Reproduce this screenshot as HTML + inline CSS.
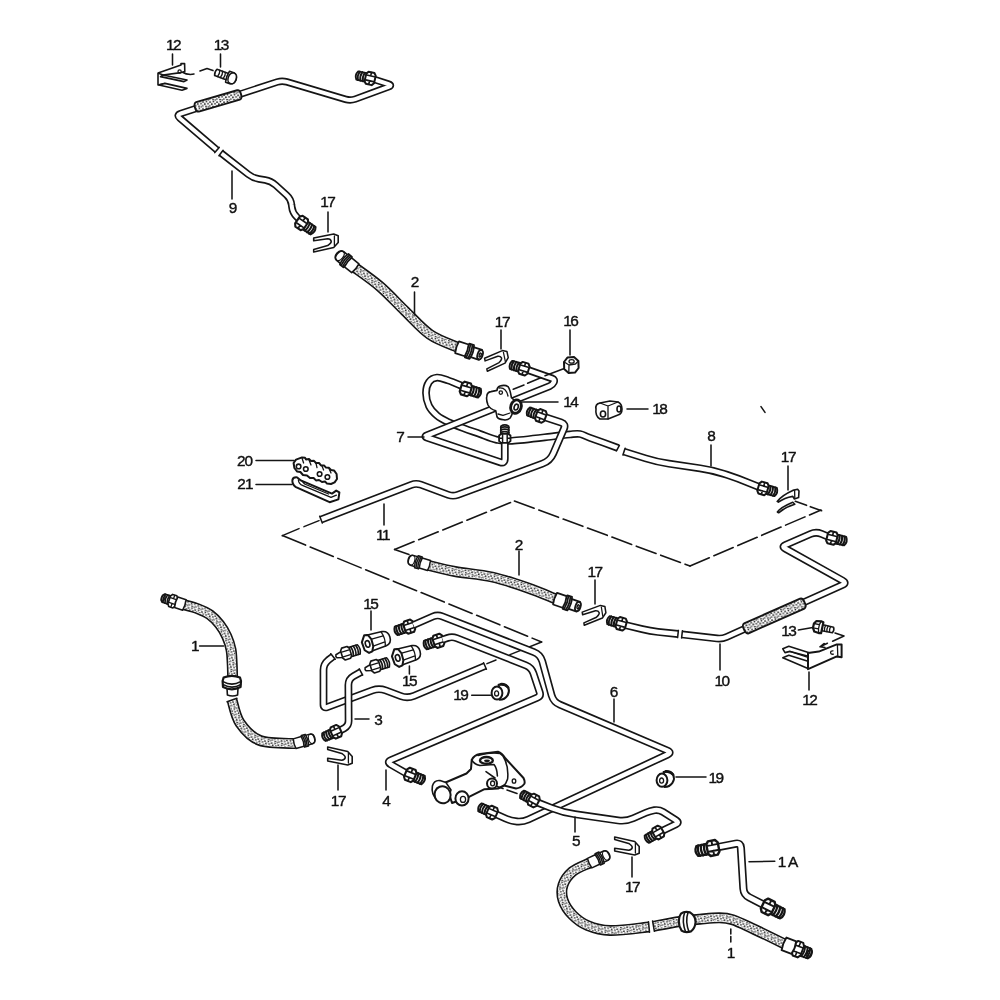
<!DOCTYPE html>
<html><head><meta charset="utf-8"><title>Brake lines</title>
<style>
html,body{margin:0;padding:0;background:#fff;}
body{width:1000px;height:1000px;overflow:hidden;}
svg{display:block;filter:grayscale(1) blur(0.35px);}
text{font-family:"Liberation Sans",sans-serif;fill:#111;stroke:#111;stroke-width:0.4;stroke-linejoin:round;text-anchor:middle;}
.to{fill:none;stroke:#151515;stroke-linejoin:round;}
.ti{fill:none;stroke:#fff;stroke-linejoin:round;}
.hd{fill:none;stroke:url(#dots);}
.l{fill:none;stroke:#151515;stroke-width:1.55;stroke-linecap:round;stroke-linejoin:round;}
.l2{fill:none;stroke:#151515;stroke-width:1.3;stroke-linecap:round;stroke-linejoin:round;}
.f{fill:#fff;stroke:#151515;stroke-width:1.6;stroke-linejoin:round;}
.k{fill:#151515;stroke:none;}
.d{fill:none;stroke:#151515;stroke-width:1.6;stroke-linecap:round;}
.d2{fill:none;stroke:#151515;stroke-width:1.5;stroke-dasharray:7 3;}
</style></head><body>
<svg width="1000" height="1000" viewBox="0 0 1000 1000">
<defs>
<pattern id="dots" width="7" height="7" patternUnits="userSpaceOnUse" patternTransform="rotate(17)">
<rect width="7" height="7" fill="#fff"/>
<circle cx="1" cy="1.2" r="0.9" fill="#222"/><circle cx="4.4" cy="0.6" r="0.85" fill="#222"/><circle cx="2.8" cy="3.2" r="0.95" fill="#222"/><circle cx="6" cy="2.8" r="0.85" fill="#222"/><circle cx="0.8" cy="5" r="0.85" fill="#222"/><circle cx="4" cy="5.6" r="0.9" fill="#222"/><circle cx="6.2" cy="6" r="0.8" fill="#222"/>
</pattern>
</defs>
<rect width="1000" height="1000" fill="#fff"/>
<path d="M319 520.6 L304 526.6 M299 528.6 L282.4 535.6" class="l"/><path d="M282.4 535.6 L541.6 642" class="d" stroke-dasharray="25 5"/><path d="M541.6 642 L510 654.6 M496 660 L487 663.6" class="l"/>
<path d="M409 554.4 L394.6 549.4" class="l"/><path d="M394.6 549.4 L514.4 501" class="d" stroke-dasharray="21 5"/><path d="M514.4 501 L690 566" class="d" stroke-dasharray="21 5"/><path d="M690 566 L821 510" class="d" stroke-dasharray="21 5"/><path d="M821.6 510.8 L792 500" class="d" stroke-dasharray="12 4"/>
<path d="M182 72 Q188 75.5 194 74 M200 71 L207 68.6 L213 70.6" class="l"/>
<path d="M835 633 L844 636 L832.6 641.2 M827.4 643.2 L820 646.8 M820 646.8 L824 643.6 M820 646.8 L825 647.4" class="l"/>
<path d="M373.6 79.2 L388.6 84.1 Q392.4 85.4 388.6 86.8 L355.2 99.1 Q350.5 100.8 345.7 99.4 L286.8 81.9 Q282.0 80.5 277.2 82.0 L180.8 113.5 Q176.0 115.0 179.8 118.2 L217.0 150.0" class="to" stroke-width="7.4"/>
<path d="M373.6 79.2 L388.6 84.1 Q392.4 85.4 388.6 86.8 L355.2 99.1 Q350.5 100.8 345.7 99.4 L286.8 81.9 Q282.0 80.5 277.2 82.0 L180.8 113.5 Q176.0 115.0 179.8 118.2 L217.0 150.0" class="ti" stroke-width="4.1"/>
<path d="M219.2 147.4 L214.8 152.6" class="l"/>
<path d="M221.0 153.0 L248.3 174.3 Q253.0 178.0 258.9 179.0 L265.1 180.0 Q271.0 181.0 275.5 185.0 L286.5 195.0 Q291.0 199.0 291.6 205.0 L291.8 206.6 Q292.4 212.6 296.7 216.8 L301.6 221.6" class="to" stroke-width="7.4"/>
<path d="M221.0 153.0 L248.3 174.3 Q253.0 178.0 258.9 179.0 L265.1 180.0 Q271.0 181.0 275.5 185.0 L286.5 195.0 Q291.0 199.0 291.6 205.0 L291.8 206.6 Q292.4 212.6 296.7 216.8 L301.6 221.6" class="ti" stroke-width="4.1"/>
<path d="M218.9 155.7 L223.1 150.3" class="l"/>
<g transform="translate(195.0 107.6) rotate(-16.2)"><rect x="0" y="-4.9" width="47.9" height="9.8" rx="2.6" ry="4" fill="url(#dots)" stroke="#151515" stroke-width="1.9"/></g>
<g transform="translate(374.4 79.4) rotate(193.0) scale(1.00)"><path d="M8 -4.4 L17.6 -4.2 Q20.4 0 17.6 4.2 L8 4.4 Z" class="f" style="stroke-width:1.9"/><path d="M10.8 -4.4 Q12.6 0 10.8 4.4" class="l" style="stroke-width:1.9"/><path d="M13.4 -4.4 Q15.2 0 13.4 4.4" class="l" style="stroke-width:1.9"/><path d="M16.0 -4.4 Q17.8 0 16.0 4.4" class="l" style="stroke-width:1.9"/><path d="M-0.5 -3.8 L1.4 -6.2 L7.4 -6.2 L9.2 -3.8 L9.2 3.8 L7.4 6.2 L1.4 6.2 L-0.5 3.8 Z" class="f" style="stroke-width:2"/><path d="M0.6 -2.4 L8.4 -2.4 M0.6 2.6 L8.4 2.6 M4.4 -6 L4.4 -2.4 M4.4 2.6 L4.4 6" class="l2" style="stroke-width:1.6"/></g>
<g transform="translate(297.8 220.4) rotate(34.0) scale(1.05)"><path d="M8 -4.4 L17.6 -4.2 Q20.4 0 17.6 4.2 L8 4.4 Z" class="f" style="stroke-width:1.9"/><path d="M10.8 -4.4 Q12.6 0 10.8 4.4" class="l" style="stroke-width:1.9"/><path d="M13.4 -4.4 Q15.2 0 13.4 4.4" class="l" style="stroke-width:1.9"/><path d="M16.0 -4.4 Q17.8 0 16.0 4.4" class="l" style="stroke-width:1.9"/><path d="M-0.5 -3.8 L1.4 -6.2 L7.4 -6.2 L9.2 -3.8 L9.2 3.8 L7.4 6.2 L1.4 6.2 L-0.5 3.8 Z" class="f" style="stroke-width:2"/><path d="M0.6 -2.4 L8.4 -2.4 M0.6 2.6 L8.4 2.6 M4.4 -6 L4.4 -2.4 M4.4 2.6 L4.4 6" class="l2" style="stroke-width:1.6"/></g>
<g transform="translate(326.0 243.0) rotate(0.0) scale(1.00)"><path d="M-12.3 -5 L7.7 -9 L12.2 -7.2 L12.2 -0.5 L7.7 4.5 L-12.3 9 L-12.3 6.4 L1.7 2.6 Q5.6 0 5.2 -1.8 Q4.6 -4 1.7 -4.2 L-12.3 -2.2 Z" class="f"/><path d="M8.4 -7 L8.4 2.6" class="l2"/></g>
<path d="M354.0 267.0 C358.3 270.2 371.5 279.2 380.0 286.5 C388.5 293.8 396.7 303.0 405.0 311.0 C413.3 319.0 421.2 328.4 430.0 334.5 C438.8 340.6 453.3 345.2 458.0 347.4" class="to" stroke-width="11.0"/>
<path d="M354.0 267.0 C358.3 270.2 371.5 279.2 380.0 286.5 C388.5 293.8 396.7 303.0 405.0 311.0 C413.3 319.0 421.2 328.4 430.0 334.5 C438.8 340.6 453.3 345.2 458.0 347.4" class="ti" stroke-width="7.7"/>
<path d="M354.0 267.0 C358.3 270.2 371.5 279.2 380.0 286.5 C388.5 293.8 396.7 303.0 405.0 311.0 C413.3 319.0 421.2 328.4 430.0 334.5 C438.8 340.6 453.3 345.2 458.0 347.4" class="hd" stroke-width="7.1"/>
<g transform="translate(355.0 268.0) rotate(219.0) scale(1.04)"><path d="M12 -5.4 L18.4 -5.4 Q22.4 -5 22.4 0 Q22.4 5 18.4 5.4 L12 5.4 Z" class="f"/><ellipse cx="18.6" cy="0" rx="3.2" ry="5.2" class="l2"/><path d="M9 -6.6 L13.4 -6.6 Q15.4 0 13.4 6.6 L9 6.6 Q7.4 0 9 -6.6 Z" class="f"/><path d="M10.2 -6 Q11.6 0 10.2 6 M12 -6 Q13.6 0 12 6" class="l"/><path d="M-0.4 -5.5 L8.6 -5.5 Q10 0 8.6 5.5 L-0.4 5.5 Q-1.6 0 -0.4 -5.5 Z" class="f"/></g>
<g transform="translate(457.5 347.4) rotate(18.0) scale(1.12)"><path d="M12 -4.6 L21.6 -4.6 Q24 0 21.6 4.6 L12 4.6 Z" class="f"/><ellipse cx="21.2" cy="0" rx="2.3" ry="4.2" class="f"/><ellipse cx="21.4" cy="0.2" rx="0.9" ry="1.8" class="l2"/><path d="M9 -6.4 L13.4 -6.4 Q15.4 0 13.4 6.4 L9 6.4 Q7.4 0 9 -6.4 Z" class="f"/><path d="M10.2 -6 Q11.6 0 10.2 6 M12 -6 Q13.6 0 12 6" class="l"/><path d="M-0.4 -5.5 L8.6 -5.5 Q10 0 8.6 5.5 L-0.4 5.5 Q-1.6 0 -0.4 -5.5 Z" class="f"/></g>
<path d="M158 73 L181 65 L181 63.6 L184.6 63.6 L184.8 71.6 L181 72.6 L163 75 L158 73 L158 85 L165 83.4" class="f"/>
<path d="M163 75 L187 80 L184 81.6 L160.5 76.6 Z M165 83.4 L187 88.4 L182 90.2 L159 85 Z" class="f"/>
<circle cx="179.6" cy="71.4" r="1.6" class="l2"/>
<g transform="translate(215.8 72.4) rotate(20.0) scale(1.00)"><path d="M0 -3.4 L13 -3.4 L13 3.4 L0 3.4 Q-1.6 0 0 -3.4 Z" class="f"/><path d="M3 -3.4 Q4.4 0 3 3.4 M6 -3.4 Q7.4 0 6 3.4 M9 -3.4 Q10.4 0 9 3.4" class="l2"/><path d="M12.5 -5.8 L17 -5.8 Q21.6 -5 21.6 0 Q21.6 5 17 5.8 L12.5 5.8 Q11 0 12.5 -5.8 Z" class="f"/><ellipse cx="17.4" cy="0" rx="4" ry="5.6" class="f"/></g>
<path d="M462.0 386.0 C459.7 385.1 452.2 381.8 448.0 380.4 C443.8 379.0 440.2 377.3 437.0 377.6 C433.8 377.9 430.8 379.4 429.0 382.0 C427.2 384.6 426.0 389.0 426.0 393.0 C426.0 397.0 427.2 402.2 429.0 406.0 C430.8 409.8 433.8 412.8 437.0 415.5 C440.2 418.2 443.5 419.9 448.0 422.0 C452.5 424.1 458.7 426.4 464.0 428.4 C469.3 430.4 474.7 432.1 480.0 434.0 C485.3 435.9 490.7 438.5 496.0 439.6 C501.3 440.7 502.3 441.4 512.0 440.8 C521.7 440.2 544.3 437.3 554.0 436.2 C563.7 435.1 565.7 434.8 570.0 434.4 C574.3 434.0 576.7 433.4 580.0 434.0 C583.3 434.6 583.7 435.5 590.0 437.8 C596.3 440.1 613.3 446.3 618.0 448.0" class="to" stroke-width="7.8"/>
<path d="M462.0 386.0 C459.7 385.1 452.2 381.8 448.0 380.4 C443.8 379.0 440.2 377.3 437.0 377.6 C433.8 377.9 430.8 379.4 429.0 382.0 C427.2 384.6 426.0 389.0 426.0 393.0 C426.0 397.0 427.2 402.2 429.0 406.0 C430.8 409.8 433.8 412.8 437.0 415.5 C440.2 418.2 443.5 419.9 448.0 422.0 C452.5 424.1 458.7 426.4 464.0 428.4 C469.3 430.4 474.7 432.1 480.0 434.0 C485.3 435.9 490.7 438.5 496.0 439.6 C501.3 440.7 502.3 441.4 512.0 440.8 C521.7 440.2 544.3 437.3 554.0 436.2 C563.7 435.1 565.7 434.8 570.0 434.4 C574.3 434.0 576.7 433.4 580.0 434.0 C583.3 434.6 583.7 435.5 590.0 437.8 C596.3 440.1 613.3 446.3 618.0 448.0" class="ti" stroke-width="4.5"/>
<path d="M616.6 450.6 L619.4 445.4" class="l"/>
<path d="M624.0 451.6 L645.6 458.4 Q657.0 462.0 668.9 463.7 L700.1 468.3 Q712.0 470.0 723.4 473.7 L727.0 474.8 Q738.0 478.4 748.7 482.8 L759.4 487.2" class="to" stroke-width="7.8"/>
<path d="M624.0 451.6 L645.6 458.4 Q657.0 462.0 668.9 463.7 L700.1 468.3 Q712.0 470.0 723.4 473.7 L727.0 474.8 Q738.0 478.4 748.7 482.8 L759.4 487.2" class="ti" stroke-width="4.5"/>
<path d="M622.9 455.0 L625.1 448.2" class="l"/>
<path d="M504.8 441.0 L504.8 458.8 Q504.8 463.8 500.1 462.2 L426.8 437.5 Q424.0 436.5 426.8 435.4 L549.7 386.1 Q552.5 385.0 553.8 382.2 L553.8 382.2 Q555.0 379.5 552.2 378.5 L528.0 370.0" class="to" stroke-width="7.8"/>
<path d="M504.8 441.0 L504.8 458.8 Q504.8 463.8 500.1 462.2 L426.8 437.5 Q424.0 436.5 426.8 435.4 L549.7 386.1 Q552.5 385.0 553.8 382.2 L553.8 382.2 Q555.0 379.5 552.2 378.5 L528.0 370.0" class="ti" stroke-width="4.5"/>
<path d="M544.4 417.0 L561.2 422.5 Q566.0 424.0 564.0 428.6 L553.2 453.7 Q550.0 461.0 542.5 463.7 L457.7 494.8 Q453.0 496.5 448.3 494.8 L420.7 484.7 Q416.0 483.0 411.3 484.8 L321.0 519.6" class="to" stroke-width="7.8"/>
<path d="M544.4 417.0 L561.2 422.5 Q566.0 424.0 564.0 428.6 L553.2 453.7 Q550.0 461.0 542.5 463.7 L457.7 494.8 Q453.0 496.5 448.3 494.8 L420.7 484.7 Q416.0 483.0 411.3 484.8 L321.0 519.6" class="ti" stroke-width="4.5"/>
<path d="M322.3 523.0 L319.7 516.2" class="l"/>
<g transform="translate(461.4 387.6) rotate(17.0) scale(1.07)"><path d="M8 -4.4 L17.6 -4.2 Q20.4 0 17.6 4.2 L8 4.4 Z" class="f" style="stroke-width:1.9"/><path d="M10.8 -4.4 Q12.6 0 10.8 4.4" class="l" style="stroke-width:1.9"/><path d="M13.4 -4.4 Q15.2 0 13.4 4.4" class="l" style="stroke-width:1.9"/><path d="M16.0 -4.4 Q17.8 0 16.0 4.4" class="l" style="stroke-width:1.9"/><path d="M-0.5 -3.8 L1.4 -6.2 L7.4 -6.2 L9.2 -3.8 L9.2 3.8 L7.4 6.2 L1.4 6.2 L-0.5 3.8 Z" class="f" style="stroke-width:2"/><path d="M0.6 -2.4 L8.4 -2.4 M0.6 2.6 L8.4 2.6 M4.4 -6 L4.4 -2.4 M4.4 2.6 L4.4 6" class="l2" style="stroke-width:1.6"/></g>
<g transform="translate(528.0 370.0) rotate(197.0) scale(1.00)"><path d="M8 -4.4 L17.6 -4.2 Q20.4 0 17.6 4.2 L8 4.4 Z" class="f" style="stroke-width:1.9"/><path d="M10.8 -4.4 Q12.6 0 10.8 4.4" class="l" style="stroke-width:1.9"/><path d="M13.4 -4.4 Q15.2 0 13.4 4.4" class="l" style="stroke-width:1.9"/><path d="M16.0 -4.4 Q17.8 0 16.0 4.4" class="l" style="stroke-width:1.9"/><path d="M-0.5 -3.8 L1.4 -6.2 L7.4 -6.2 L9.2 -3.8 L9.2 3.8 L7.4 6.2 L1.4 6.2 L-0.5 3.8 Z" class="f" style="stroke-width:2"/><path d="M0.6 -2.4 L8.4 -2.4 M0.6 2.6 L8.4 2.6 M4.4 -6 L4.4 -2.4 M4.4 2.6 L4.4 6" class="l2" style="stroke-width:1.6"/></g>
<g transform="translate(545.0 417.4) rotate(200.0) scale(1.00)"><path d="M8 -4.4 L17.6 -4.2 Q20.4 0 17.6 4.2 L8 4.4 Z" class="f" style="stroke-width:1.9"/><path d="M10.8 -4.4 Q12.6 0 10.8 4.4" class="l" style="stroke-width:1.9"/><path d="M13.4 -4.4 Q15.2 0 13.4 4.4" class="l" style="stroke-width:1.9"/><path d="M16.0 -4.4 Q17.8 0 16.0 4.4" class="l" style="stroke-width:1.9"/><path d="M-0.5 -3.8 L1.4 -6.2 L7.4 -6.2 L9.2 -3.8 L9.2 3.8 L7.4 6.2 L1.4 6.2 L-0.5 3.8 Z" class="f" style="stroke-width:2"/><path d="M0.6 -2.4 L8.4 -2.4 M0.6 2.6 L8.4 2.6 M4.4 -6 L4.4 -2.4 M4.4 2.6 L4.4 6" class="l2" style="stroke-width:1.6"/></g>
<g transform="translate(504.8 442.4) rotate(-90.0) scale(0.92)"><path d="M8 -4.4 L17.6 -4.2 Q20.4 0 17.6 4.2 L8 4.4 Z" class="f" style="stroke-width:1.9"/><path d="M10.8 -4.4 Q12.6 0 10.8 4.4" class="l" style="stroke-width:1.9"/><path d="M13.4 -4.4 Q15.2 0 13.4 4.4" class="l" style="stroke-width:1.9"/><path d="M16.0 -4.4 Q17.8 0 16.0 4.4" class="l" style="stroke-width:1.9"/><path d="M-0.5 -3.8 L1.4 -6.2 L7.4 -6.2 L9.2 -3.8 L9.2 3.8 L7.4 6.2 L1.4 6.2 L-0.5 3.8 Z" class="f" style="stroke-width:2"/><path d="M0.6 -2.4 L8.4 -2.4 M0.6 2.6 L8.4 2.6 M4.4 -6 L4.4 -2.4 M4.4 2.6 L4.4 6" class="l2" style="stroke-width:1.6"/></g>
<g transform="translate(758.8 487.2) rotate(16.0) scale(1.00)"><path d="M8 -4.4 L17.6 -4.2 Q20.4 0 17.6 4.2 L8 4.4 Z" class="f" style="stroke-width:1.9"/><path d="M10.8 -4.4 Q12.6 0 10.8 4.4" class="l" style="stroke-width:1.9"/><path d="M13.4 -4.4 Q15.2 0 13.4 4.4" class="l" style="stroke-width:1.9"/><path d="M16.0 -4.4 Q17.8 0 16.0 4.4" class="l" style="stroke-width:1.9"/><path d="M-0.5 -3.8 L1.4 -6.2 L7.4 -6.2 L9.2 -3.8 L9.2 3.8 L7.4 6.2 L1.4 6.2 L-0.5 3.8 Z" class="f" style="stroke-width:2"/><path d="M0.6 -2.4 L8.4 -2.4 M0.6 2.6 L8.4 2.6 M4.4 -6 L4.4 -2.4 M4.4 2.6 L4.4 6" class="l2" style="stroke-width:1.6"/></g>
<path d="M486.8 396.4 Q487 392 491 391.6 L497 390.4 Q497 387 500 386 Q505 384.6 508 386.6 Q510 389 511.4 397.6 L514 400 L512 414.4 L510.2 418 Q507 420.6 503.6 419.8 Q498 419 497 416.8 L495.8 410.8 Q490 409 488 405 Q486 400 486.8 396.4 Z" class="f"/>
<path d="M499 388 Q506 387 508 396 M498 414 L503 415.4 L510 413" class="l2"/>
<ellipse cx="516" cy="406.6" rx="5.2" ry="6.8" class="f" style="stroke-width:2.8" transform="rotate(18 516 406.6)"/><ellipse cx="516.2" cy="407" rx="2" ry="3" class="f" transform="rotate(18 516 407)"/><circle cx="500.8" cy="392.6" r="1.7" class="l2"/>
<path d="M564 362 L567.4 357.6 L574 357 L578.4 361 L578.6 368 L575 372.6 L568.6 373 L564.2 369 Z" class="f" style="stroke-width:2"/><path d="M564.2 362 L569 365 L575.4 364 L578.4 361 M569 365 L568.8 373" class="l2"/><ellipse cx="571.6" cy="361.4" rx="2.6" ry="1.8" class="l2"/>
<path d="M596 409 Q595 404 600 403 L610 401 L618 402 Q622 404 622 409 Q622 414 618 415 L608 419 L600 419 Q595 416 596 409 Z" class="f"/><ellipse cx="603" cy="414" rx="2.6" ry="3" class="f"/><ellipse cx="619" cy="409" rx="2" ry="3" class="f"/><path d="M600 403 L608 406 L618 402 M608 406 L608 419" class="l2"/>
<g transform="translate(497.0 360.5) rotate(-12.0) scale(0.95)"><path d="M-12.3 -5 L7.7 -9 L12.2 -7.2 L12.2 -0.5 L7.7 4.5 L-12.3 9 L-12.3 6.4 L1.7 2.6 Q5.6 0 5.2 -1.8 Q4.6 -4 1.7 -4.2 L-12.3 -2.2 Z" class="f"/><path d="M8.4 -7 L8.4 2.6" class="l2"/></g>
<path d="M777.2 501.4 Q782 495.2 792.8 490.4 L797.6 489.2 L799 491 L798.6 497.6 L794.4 499 L792.8 496.4 Q784.4 497.8 778.4 502.2 Z M777.4 512 Q780.8 507.2 792.8 502.2 L794.8 504.2 Q785.6 506.8 778.6 512.8 Z" class="f"/><path d="M794.6 490.6 L794.8 497.8" class="l2"/>
<path d="M293.6 463 L296 459.6 L302 457.4 L305 457.8 L306 459.4 L309 459 L311 461 L314 460.8 L316 463 L319 463 L321 465.4 L324 465.4 L326 467.6 L329 467.8 L331 470 L334 470.4 L336.6 474 L337 479 L334.6 482.4 L331 484 L327 483.6 L325 481.4 L322 482 L319 480 L316 480.4 L313.6 478 L310 478 L307 475.4 L303 475 L300.4 472 L297 471.4 L294.4 468 Z" class="f" style="stroke-width:2"/>
<circle cx="298.6" cy="466.4" r="2.3" class="l"/><circle cx="305.8" cy="469" r="2.3" class="l"/><circle cx="319.6" cy="474" r="2.3" class="l"/><circle cx="327.4" cy="477" r="2.3" class="l"/>
<path d="M302 458 L303.6 463 M309 460 L311 465 M316 463.4 L317 467.6 M322 466 L323.6 470 M329 468.4 L331 473" class="l2"/>
<path d="M292.4 480 Q293 477 297.2 477.4 L300.8 480.4 L332 493.6 L336.2 490.6 L339.4 492.4 L338.4 499.4 L329.6 502.2 L295.4 486.8 Q292 484 292.4 480 Z" class="f" style="stroke-width:2"/>
<path d="M298.4 480 Q298.6 484 303 485.6 L331 497.4 L336.4 495.2 M302 481 L304.6 484 L328.6 494" class="l2"/>
<path d="M427.0 565.0 C431.7 566.1 444.2 569.5 455.0 571.5 C465.8 573.5 479.8 574.2 492.0 577.0 C504.2 579.8 517.3 584.3 528.0 588.0 C538.7 591.7 551.3 597.2 556.0 599.0" class="to" stroke-width="11.0"/>
<path d="M427.0 565.0 C431.7 566.1 444.2 569.5 455.0 571.5 C465.8 573.5 479.8 574.2 492.0 577.0 C504.2 579.8 517.3 584.3 528.0 588.0 C538.7 591.7 551.3 597.2 556.0 599.0" class="ti" stroke-width="7.7"/>
<path d="M427.0 565.0 C431.7 566.1 444.2 569.5 455.0 571.5 C465.8 573.5 479.8 574.2 492.0 577.0 C504.2 579.8 517.3 584.3 528.0 588.0 C538.7 591.7 551.3 597.2 556.0 599.0" class="hd" stroke-width="7.1"/>
<g transform="translate(428.6 565.4) rotate(197.0) scale(0.95)"><path d="M12 -5.4 L18.4 -5.4 Q22.4 -5 22.4 0 Q22.4 5 18.4 5.4 L12 5.4 Z" class="f"/><ellipse cx="18.6" cy="0" rx="3.2" ry="5.2" class="l2"/><path d="M9 -6.6 L13.4 -6.6 Q15.4 0 13.4 6.6 L9 6.6 Q7.4 0 9 -6.6 Z" class="f"/><path d="M10.2 -6 Q11.6 0 10.2 6 M12 -6 Q13.6 0 12 6" class="l"/><path d="M-0.4 -5.5 L8.6 -5.5 Q10 0 8.6 5.5 L-0.4 5.5 Q-1.6 0 -0.4 -5.5 Z" class="f"/></g>
<g transform="translate(555.5 598.8) rotate(19.0) scale(1.12)"><path d="M12 -4.6 L21.6 -4.6 Q24 0 21.6 4.6 L12 4.6 Z" class="f"/><ellipse cx="21.2" cy="0" rx="2.3" ry="4.2" class="f"/><ellipse cx="21.4" cy="0.2" rx="0.9" ry="1.8" class="l2"/><path d="M9 -6.4 L13.4 -6.4 Q15.4 0 13.4 6.4 L9 6.4 Q7.4 0 9 -6.4 Z" class="f"/><path d="M10.2 -6 Q11.6 0 10.2 6 M12 -6 Q13.6 0 12 6" class="l"/><path d="M-0.4 -5.5 L8.6 -5.5 Q10 0 8.6 5.5 L-0.4 5.5 Q-1.6 0 -0.4 -5.5 Z" class="f"/></g>
<g transform="translate(594.5 615.0) rotate(-9.0) scale(0.95)"><path d="M-12.3 -5 L7.7 -9 L12.2 -7.2 L12.2 -0.5 L7.7 4.5 L-12.3 9 L-12.3 6.4 L1.7 2.6 Q5.6 0 5.2 -1.8 Q4.6 -4 1.7 -4.2 L-12.3 -2.2 Z" class="f"/><path d="M8.4 -7 L8.4 2.6" class="l2"/></g>
<path d="M625.0 625.0 L642.2 629.1 Q650.0 631.0 658.0 631.9 L678.0 634.0" class="to" stroke-width="7.8"/>
<path d="M625.0 625.0 L642.2 629.1 Q650.0 631.0 658.0 631.9 L678.0 634.0" class="ti" stroke-width="4.5"/>
<path d="M678.4 630.4 L677.6 637.6" class="l"/>
<path d="M682.0 634.4 L717.0 638.4 Q722.0 639.0 726.6 637.0 L842.4 585.0 Q847.0 583.0 842.6 580.6 L785.1 548.5 Q781.6 546.6 785.3 545.0 L810.5 534.0 Q816.0 531.6 821.5 533.9 L828.0 536.6" class="to" stroke-width="7.8"/>
<path d="M682.0 634.4 L717.0 638.4 Q722.0 639.0 726.6 637.0 L842.4 585.0 Q847.0 583.0 842.6 580.6 L785.1 548.5 Q781.6 546.6 785.3 545.0 L810.5 534.0 Q816.0 531.6 821.5 533.9 L828.0 536.6" class="ti" stroke-width="4.5"/>
<path d="M681.6 638.0 L682.4 630.8" class="l"/>
<g transform="translate(744.0 629.4) rotate(-23.9)"><rect x="0" y="-5.4" width="66.3" height="10.8" rx="2.6" ry="4" fill="url(#dots)" stroke="#151515" stroke-width="1.9"/></g>
<g transform="translate(625.4 625.0) rotate(196.0) scale(1.00)"><path d="M8 -4.4 L17.6 -4.2 Q20.4 0 17.6 4.2 L8 4.4 Z" class="f" style="stroke-width:1.9"/><path d="M10.8 -4.4 Q12.6 0 10.8 4.4" class="l" style="stroke-width:1.9"/><path d="M13.4 -4.4 Q15.2 0 13.4 4.4" class="l" style="stroke-width:1.9"/><path d="M16.0 -4.4 Q17.8 0 16.0 4.4" class="l" style="stroke-width:1.9"/><path d="M-0.5 -3.8 L1.4 -6.2 L7.4 -6.2 L9.2 -3.8 L9.2 3.8 L7.4 6.2 L1.4 6.2 L-0.5 3.8 Z" class="f" style="stroke-width:2"/><path d="M0.6 -2.4 L8.4 -2.4 M0.6 2.6 L8.4 2.6 M4.4 -6 L4.4 -2.4 M4.4 2.6 L4.4 6" class="l2" style="stroke-width:1.6"/></g>
<g transform="translate(827.6 536.8) rotate(14.0) scale(1.03)"><path d="M8 -4.4 L17.6 -4.2 Q20.4 0 17.6 4.2 L8 4.4 Z" class="f" style="stroke-width:1.9"/><path d="M10.8 -4.4 Q12.6 0 10.8 4.4" class="l" style="stroke-width:1.9"/><path d="M13.4 -4.4 Q15.2 0 13.4 4.4" class="l" style="stroke-width:1.9"/><path d="M16.0 -4.4 Q17.8 0 16.0 4.4" class="l" style="stroke-width:1.9"/><path d="M-0.5 -3.8 L1.4 -6.2 L7.4 -6.2 L9.2 -3.8 L9.2 3.8 L7.4 6.2 L1.4 6.2 L-0.5 3.8 Z" class="f" style="stroke-width:2"/><path d="M0.6 -2.4 L8.4 -2.4 M0.6 2.6 L8.4 2.6 M4.4 -6 L4.4 -2.4 M4.4 2.6 L4.4 6" class="l2" style="stroke-width:1.6"/></g>
<g transform="translate(833.0 630.0) rotate(192.0) scale(1.00)"><path d="M0 -2.8 L12 -3 L12 3 L0 2.8 Q-1.6 0 0 -2.8 Z" class="f"/><path d="M3 -2.8 Q4 0 3 2.8 M5.6 -2.8 Q6.6 0 5.6 2.8 M8.2 -2.8 Q9.2 0 8.2 2.8" class="l2"/><path d="M11 -5.6 L13.4 -6 L18 -5.4 L20 -2 L20 2.4 L18 5.4 L13.4 6 L11 5.6 Z" class="f" style="stroke-width:2.2"/><path d="M13.4 -6 L14.4 -2 L14.4 2.4 L13.4 6 M14.4 -2 L20 -2 M14.4 2.4 L20 2.4" class="l2"/></g>
<path d="M782.8 648.8 L788.8 646.2 L809.2 652.8 L809.2 656.6 L790 651.4 L785 652.6 Z M782.8 657.8 L788.8 655.2 L808 661.2 L808 668.6 Z" class="f"/>
<path d="M808 653 L818.8 651.6 L836.8 644.4 L841.6 644.4 L841.6 657.2 L836.8 656.4 L808 669.2 Z" class="f" style="stroke-width:2"/>
<path d="M837.4 644.6 L837.8 656.4 M790 651.4 L808 657.4 M833 650.8 Q830.4 650.6 830.6 652.8 Q831 654.6 833.4 654.2" class="l2"/>
<path d="M183.6 604.6 C186.0 605.3 193.6 607.1 198.0 608.8 C202.4 610.5 206.4 612.2 210.0 614.8 C213.6 617.4 216.8 620.8 219.6 624.4 C222.4 628.0 224.9 632.2 226.8 636.4 C228.7 640.6 230.1 645.0 231.0 649.6 C231.9 654.2 231.9 659.4 232.2 664.0 C232.5 668.6 232.5 674.8 232.6 677.0" class="to" stroke-width="11.0"/>
<path d="M183.6 604.6 C186.0 605.3 193.6 607.1 198.0 608.8 C202.4 610.5 206.4 612.2 210.0 614.8 C213.6 617.4 216.8 620.8 219.6 624.4 C222.4 628.0 224.9 632.2 226.8 636.4 C228.7 640.6 230.1 645.0 231.0 649.6 C231.9 654.2 231.9 659.4 232.2 664.0 C232.5 668.6 232.5 674.8 232.6 677.0" class="ti" stroke-width="7.7"/>
<path d="M183.6 604.6 C186.0 605.3 193.6 607.1 198.0 608.8 C202.4 610.5 206.4 612.2 210.0 614.8 C213.6 617.4 216.8 620.8 219.6 624.4 C222.4 628.0 224.9 632.2 226.8 636.4 C228.7 640.6 230.1 645.0 231.0 649.6 C231.9 654.2 231.9 659.4 232.2 664.0 C232.5 668.6 232.5 674.8 232.6 677.0" class="hd" stroke-width="7.1"/>
<path d="M232.0 700.0 C233.3 703.8 235.3 716.2 240.0 723.0 C244.7 729.8 250.7 737.1 260.0 740.5 C269.3 743.9 290.0 743.1 296.0 743.6" class="to" stroke-width="11.0"/>
<path d="M232.0 700.0 C233.3 703.8 235.3 716.2 240.0 723.0 C244.7 729.8 250.7 737.1 260.0 740.5 C269.3 743.9 290.0 743.1 296.0 743.6" class="ti" stroke-width="7.7"/>
<path d="M232.0 700.0 C233.3 703.8 235.3 716.2 240.0 723.0 C244.7 729.8 250.7 737.1 260.0 740.5 C269.3 743.9 290.0 743.1 296.0 743.6" class="hd" stroke-width="7.1"/>
<path d="M227.1 701.7 L236.9 698.3" class="l"/>
<g transform="translate(184.0 604.8) rotate(198.0) scale(1.00)"><path d="M14.5 -4.4 L22 -4.2 Q24.6 0 22 4.2 L14.5 4.4 Z" class="f"/><ellipse cx="22" cy="0" rx="1.8" ry="3.4" class="l2"/><path d="M16.4 -4.4 Q18.0 0 16.4 4.4" class="l"/><path d="M18.6 -4.4 Q20.2 0 18.6 4.4" class="l"/><path d="M20.8 -4.4 Q22.4 0 20.8 4.4" class="l"/><path d="M8 -4 L9.6 -6.4 L14 -6.4 L15.6 -4 L15.6 4 L14 6.4 L9.6 6.4 L8 4 Z" class="f"/><path d="M9 -2.4 L15 -2.4 M9 2.6 L15 2.6 M11.8 -6 L11.8 -2.4 M11.8 2.6 L11.8 6" class="l2"/><path d="M-0.4 -5.5 L8.2 -5.5 Q9.6 0 8.2 5.5 L-0.4 5.5 Q-1.6 0 -0.4 -5.5 Z" class="f"/></g>
<g transform="translate(295.0 743.6) rotate(-16.0) scale(0.92)"><path d="M12 -5.4 L18.4 -5.4 Q22.4 -5 22.4 0 Q22.4 5 18.4 5.4 L12 5.4 Z" class="f"/><ellipse cx="18.6" cy="0" rx="3.2" ry="5.2" class="l2"/><path d="M9 -6.6 L13.4 -6.6 Q15.4 0 13.4 6.6 L9 6.6 Q7.4 0 9 -6.6 Z" class="f"/><path d="M10.2 -6 Q11.6 0 10.2 6 M12 -6 Q13.6 0 12 6" class="l"/><path d="M-0.4 -5.5 L8.6 -5.5 Q10 0 8.6 5.5 L-0.4 5.5 Q-1.6 0 -0.4 -5.5 Z" class="f"/></g>
<path d="M227 688 L227.4 695 Q232.6 697 237.6 695 L238 688" class="f"/><path d="M223.6 677.6 Q232 674 240 677.6 L241 681 L240.6 687 Q232 691.6 223 687 L222.6 681 Z" class="f" style="stroke-width:2.2"/><path d="M223 681.6 Q232 686.6 240.6 681.6 M223.4 684.6 Q232 689.6 240.6 684.6" class="l"/>
<path d="M333.0 656.5 L328.2 660.2 Q323.5 664.0 323.5 670.1 L323.5 704.5 Q323.5 708.5 327.3 707.1 L372.4 690.4 Q379.0 688.0 385.6 690.4 L400.9 696.1 Q407.5 698.5 414.0 695.8 L485.0 666.0" class="to" stroke-width="7.8"/>
<path d="M333.0 656.5 L328.2 660.2 Q323.5 664.0 323.5 670.1 L323.5 704.5 Q323.5 708.5 327.3 707.1 L372.4 690.4 Q379.0 688.0 385.6 690.4 L400.9 696.1 Q407.5 698.5 414.0 695.8 L485.0 666.0" class="ti" stroke-width="4.5"/>
<path d="M330.8 653.7 L335.2 659.3" class="l"/>
<path d="M483.6 662.7 L486.4 669.3" class="l"/>
<path d="M340.0 730.5 L344.3 728.2 Q348.6 726.0 348.6 721.1 L348.4 685.0 Q348.4 679.0 353.6 676.1 L361.0 672.0" class="to" stroke-width="7.8"/>
<path d="M340.0 730.5 L344.3 728.2 Q348.6 726.0 348.6 721.1 L348.4 685.0 Q348.4 679.0 353.6 676.1 L361.0 672.0" class="ti" stroke-width="4.5"/>
<path d="M359.3 668.9 L362.7 675.1" class="l"/>
<g transform="translate(340.0 730.0) rotate(156.0) scale(1.00)"><path d="M8 -4.4 L17.6 -4.2 Q20.4 0 17.6 4.2 L8 4.4 Z" class="f" style="stroke-width:1.9"/><path d="M10.8 -4.4 Q12.6 0 10.8 4.4" class="l" style="stroke-width:1.9"/><path d="M13.4 -4.4 Q15.2 0 13.4 4.4" class="l" style="stroke-width:1.9"/><path d="M16.0 -4.4 Q17.8 0 16.0 4.4" class="l" style="stroke-width:1.9"/><path d="M-0.5 -3.8 L1.4 -6.2 L7.4 -6.2 L9.2 -3.8 L9.2 3.8 L7.4 6.2 L1.4 6.2 L-0.5 3.8 Z" class="f" style="stroke-width:2"/><path d="M0.6 -2.4 L8.4 -2.4 M0.6 2.6 L8.4 2.6 M4.4 -6 L4.4 -2.4 M4.4 2.6 L4.4 6" class="l2" style="stroke-width:1.6"/></g>
<g transform="translate(335.8 656.4) rotate(-17.0) scale(1.00)"><path d="M14.5 -4.8 L24 -4.8 Q26.6 0 24 4.8 L14.5 4.8 Z" class="f"/><path d="M17.0 -4.8 Q18.8 0 17.0 4.8" class="l"/><path d="M19.6 -4.8 Q21.4 0 19.6 4.8" class="l"/><path d="M22.2 -4.8 Q24.0 0 22.2 4.8" class="l"/><path d="M0.6 -1.6 L6.8 -3.2 L6.8 3.2 L0.6 1.6 Q-0.4 0 0.6 -1.6 Z" class="f"/><path d="M6.2 -3.8 L8 -6.2 L13.6 -6.2 L15.4 -3.8 L15.4 3.8 L13.6 6.2 L8 6.2 L6.2 3.8 Z" class="f"/><path d="M7 -2.4 L14.6 -2.4 M7 2.6 L14.6 2.6" class="l2"/></g>
<g transform="translate(365.0 669.4) rotate(-17.0) scale(1.00)"><path d="M14.5 -4.8 L24 -4.8 Q26.6 0 24 4.8 L14.5 4.8 Z" class="f"/><path d="M17.0 -4.8 Q18.8 0 17.0 4.8" class="l"/><path d="M19.6 -4.8 Q21.4 0 19.6 4.8" class="l"/><path d="M22.2 -4.8 Q24.0 0 22.2 4.8" class="l"/><path d="M0.6 -1.6 L6.8 -3.2 L6.8 3.2 L0.6 1.6 Q-0.4 0 0.6 -1.6 Z" class="f"/><path d="M6.2 -3.8 L8 -6.2 L13.6 -6.2 L15.4 -3.8 L15.4 3.8 L13.6 6.2 L8 6.2 L6.2 3.8 Z" class="f"/><path d="M7 -2.4 L14.6 -2.4 M7 2.6 L14.6 2.6" class="l2"/></g>
<g transform="translate(413.5 625.2) rotate(162.0) scale(1.04)"><path d="M8 -4.4 L17.6 -4.2 Q20.4 0 17.6 4.2 L8 4.4 Z" class="f" style="stroke-width:1.9"/><path d="M10.8 -4.4 Q12.6 0 10.8 4.4" class="l" style="stroke-width:1.9"/><path d="M13.4 -4.4 Q15.2 0 13.4 4.4" class="l" style="stroke-width:1.9"/><path d="M16.0 -4.4 Q17.8 0 16.0 4.4" class="l" style="stroke-width:1.9"/><path d="M-0.5 -3.8 L1.4 -6.2 L7.4 -6.2 L9.2 -3.8 L9.2 3.8 L7.4 6.2 L1.4 6.2 L-0.5 3.8 Z" class="f" style="stroke-width:2"/><path d="M0.6 -2.4 L8.4 -2.4 M0.6 2.6 L8.4 2.6 M4.4 -6 L4.4 -2.4 M4.4 2.6 L4.4 6" class="l2" style="stroke-width:1.6"/></g>
<g transform="translate(442.7 639.4) rotate(162.0) scale(1.04)"><path d="M8 -4.4 L17.6 -4.2 Q20.4 0 17.6 4.2 L8 4.4 Z" class="f" style="stroke-width:1.9"/><path d="M10.8 -4.4 Q12.6 0 10.8 4.4" class="l" style="stroke-width:1.9"/><path d="M13.4 -4.4 Q15.2 0 13.4 4.4" class="l" style="stroke-width:1.9"/><path d="M16.0 -4.4 Q17.8 0 16.0 4.4" class="l" style="stroke-width:1.9"/><path d="M-0.5 -3.8 L1.4 -6.2 L7.4 -6.2 L9.2 -3.8 L9.2 3.8 L7.4 6.2 L1.4 6.2 L-0.5 3.8 Z" class="f" style="stroke-width:2"/><path d="M0.6 -2.4 L8.4 -2.4 M0.6 2.6 L8.4 2.6 M4.4 -6 L4.4 -2.4 M4.4 2.6 L4.4 6" class="l2" style="stroke-width:1.6"/></g>
<g transform="translate(376.5 641.0) rotate(-17.0) scale(1.00)"><path d="M-8 -8.4 L8 -7.4 Q14 -6.4 14 0 Q14 6.4 8 7.4 L-8 8.4 Z" class="f"/><path d="M-6 -3.2 L7 -3 M-6 4 L7 3.4 M7 -7.4 Q9.6 0 7 7.4" class="l2"/><path d="M-10 -9.2 L-6.4 -8.2 L-4.4 -3.4 L-4.6 4 L-7 8.6 L-10.6 9.2 L-14 5.4 L-14.4 -3 Z" class="f" style="stroke-width:2"/><ellipse cx="-9.4" cy="0.2" rx="2.2" ry="3.4" class="f"/></g>
<g transform="translate(406.6 655.0) rotate(-17.0) scale(1.00)"><path d="M-8 -8.4 L8 -7.4 Q14 -6.4 14 0 Q14 6.4 8 7.4 L-8 8.4 Z" class="f"/><path d="M-6 -3.2 L7 -3 M-6 4 L7 3.4 M7 -7.4 Q9.6 0 7 7.4" class="l2"/><path d="M-10 -9.2 L-6.4 -8.2 L-4.4 -3.4 L-4.6 4 L-7 8.6 L-10.6 9.2 L-14 5.4 L-14.4 -3 Z" class="f" style="stroke-width:2"/><ellipse cx="-9.4" cy="0.2" rx="2.2" ry="3.4" class="f"/></g>
<path d="M413.5 625.0 L432.9 616.5 Q437.5 614.5 442.2 616.3 L533.9 652.1 Q540.4 654.6 542.3 661.3 L551.6 695.3 Q553.5 702.0 559.9 704.7 L667.4 750.5 Q672.0 752.5 667.5 754.6 L528.4 819.5 Q523.0 822.0 517.0 821.5 L517.0 821.5 Q511.0 821.0 505.5 818.5 L495.5 814.0" class="to" stroke-width="7.8"/>
<path d="M413.5 625.0 L432.9 616.5 Q437.5 614.5 442.2 616.3 L533.9 652.1 Q540.4 654.6 542.3 661.3 L551.6 695.3 Q553.5 702.0 559.9 704.7 L667.4 750.5 Q672.0 752.5 667.5 754.6 L528.4 819.5 Q523.0 822.0 517.0 821.5 L517.0 821.5 Q511.0 821.0 505.5 818.5 L495.5 814.0" class="ti" stroke-width="4.5"/>
<path d="M442.7 639.7 L447.4 638.0 Q452.0 636.3 456.6 638.1 L525.9 665.3 Q531.5 667.5 533.4 673.2 L539.7 692.2 Q541.0 696.0 537.3 697.6 L391.1 760.0 Q386.5 762.0 390.8 764.5 L406.0 773.2" class="to" stroke-width="7.8"/>
<path d="M442.7 639.7 L447.4 638.0 Q452.0 636.3 456.6 638.1 L525.9 665.3 Q531.5 667.5 533.4 673.2 L539.7 692.2 Q541.0 696.0 537.3 697.6 L391.1 760.0 Q386.5 762.0 390.8 764.5 L406.0 773.2" class="ti" stroke-width="4.5"/>
<g transform="translate(406.0 773.2) rotate(22.0) scale(1.05)"><path d="M8 -4.4 L17.6 -4.2 Q20.4 0 17.6 4.2 L8 4.4 Z" class="f" style="stroke-width:1.9"/><path d="M10.8 -4.4 Q12.6 0 10.8 4.4" class="l" style="stroke-width:1.9"/><path d="M13.4 -4.4 Q15.2 0 13.4 4.4" class="l" style="stroke-width:1.9"/><path d="M16.0 -4.4 Q17.8 0 16.0 4.4" class="l" style="stroke-width:1.9"/><path d="M-0.5 -3.8 L1.4 -6.2 L7.4 -6.2 L9.2 -3.8 L9.2 3.8 L7.4 6.2 L1.4 6.2 L-0.5 3.8 Z" class="f" style="stroke-width:2"/><path d="M0.6 -2.4 L8.4 -2.4 M0.6 2.6 L8.4 2.6 M4.4 -6 L4.4 -2.4 M4.4 2.6 L4.4 6" class="l2" style="stroke-width:1.6"/></g>
<g transform="translate(496.0 814.4) rotate(204.0) scale(1.00)"><path d="M8 -4.4 L17.6 -4.2 Q20.4 0 17.6 4.2 L8 4.4 Z" class="f" style="stroke-width:1.9"/><path d="M10.8 -4.4 Q12.6 0 10.8 4.4" class="l" style="stroke-width:1.9"/><path d="M13.4 -4.4 Q15.2 0 13.4 4.4" class="l" style="stroke-width:1.9"/><path d="M16.0 -4.4 Q17.8 0 16.0 4.4" class="l" style="stroke-width:1.9"/><path d="M-0.5 -3.8 L1.4 -6.2 L7.4 -6.2 L9.2 -3.8 L9.2 3.8 L7.4 6.2 L1.4 6.2 L-0.5 3.8 Z" class="f" style="stroke-width:2"/><path d="M0.6 -2.4 L8.4 -2.4 M0.6 2.6 L8.4 2.6 M4.4 -6 L4.4 -2.4 M4.4 2.6 L4.4 6" class="l2" style="stroke-width:1.6"/></g>
<path d="M537.5 802.5 L551.8 808.1 Q563.0 812.5 574.9 814.2 L618.1 820.4 Q626.0 821.5 633.3 818.3 L645.8 812.8 Q650.0 811.0 654.5 810.2 L654.5 810.2 Q659.0 809.5 662.9 811.9 L676.2 820.3 Q679.6 822.4 676.0 824.2 L662.0 831.0" class="to" stroke-width="7.8"/>
<path d="M537.5 802.5 L551.8 808.1 Q563.0 812.5 574.9 814.2 L618.1 820.4 Q626.0 821.5 633.3 818.3 L645.8 812.8 Q650.0 811.0 654.5 810.2 L654.5 810.2 Q659.0 809.5 662.9 811.9 L676.2 820.3 Q679.6 822.4 676.0 824.2 L662.0 831.0" class="ti" stroke-width="4.5"/>
<g transform="translate(537.5 802.6) rotate(208.0) scale(1.00)"><path d="M8 -4.4 L17.6 -4.2 Q20.4 0 17.6 4.2 L8 4.4 Z" class="f" style="stroke-width:1.9"/><path d="M10.8 -4.4 Q12.6 0 10.8 4.4" class="l" style="stroke-width:1.9"/><path d="M13.4 -4.4 Q15.2 0 13.4 4.4" class="l" style="stroke-width:1.9"/><path d="M16.0 -4.4 Q17.8 0 16.0 4.4" class="l" style="stroke-width:1.9"/><path d="M-0.5 -3.8 L1.4 -6.2 L7.4 -6.2 L9.2 -3.8 L9.2 3.8 L7.4 6.2 L1.4 6.2 L-0.5 3.8 Z" class="f" style="stroke-width:2"/><path d="M0.6 -2.4 L8.4 -2.4 M0.6 2.6 L8.4 2.6 M4.4 -6 L4.4 -2.4 M4.4 2.6 L4.4 6" class="l2" style="stroke-width:1.6"/></g>
<g transform="translate(662.0 830.4) rotate(150.0) scale(1.00)"><path d="M8 -4.4 L17.6 -4.2 Q20.4 0 17.6 4.2 L8 4.4 Z" class="f" style="stroke-width:1.9"/><path d="M10.8 -4.4 Q12.6 0 10.8 4.4" class="l" style="stroke-width:1.9"/><path d="M13.4 -4.4 Q15.2 0 13.4 4.4" class="l" style="stroke-width:1.9"/><path d="M16.0 -4.4 Q17.8 0 16.0 4.4" class="l" style="stroke-width:1.9"/><path d="M-0.5 -3.8 L1.4 -6.2 L7.4 -6.2 L9.2 -3.8 L9.2 3.8 L7.4 6.2 L1.4 6.2 L-0.5 3.8 Z" class="f" style="stroke-width:2"/><path d="M0.6 -2.4 L8.4 -2.4 M0.6 2.6 L8.4 2.6 M4.4 -6 L4.4 -2.4 M4.4 2.6 L4.4 6" class="l2" style="stroke-width:1.6"/></g>
<g transform="translate(499.6 692.4) rotate(0.0) scale(1.00)"><path d="M-1 -7.6 Q6 -9 8.6 -5 Q10.4 -1 8 3 Q5 7.4 0 7.4 Z" class="f" style="stroke-width:2"/><path d="M1 -8.2 Q6 -8.6 8.4 -5" class="l" style="stroke-width:2.6"/><ellipse cx="-2.6" cy="0.6" rx="5.4" ry="6.6" class="f" style="stroke-width:2"/><ellipse cx="-3" cy="1" rx="2" ry="2.6" class="l2"/></g>
<g transform="translate(664.6 779.6) rotate(0.0) scale(1.00)"><path d="M-1 -7.6 Q6 -9 8.6 -5 Q10.4 -1 8 3 Q5 7.4 0 7.4 Z" class="f" style="stroke-width:2"/><path d="M1 -8.2 Q6 -8.6 8.4 -5" class="l" style="stroke-width:2.6"/><ellipse cx="-2.6" cy="0.6" rx="5.4" ry="6.6" class="f" style="stroke-width:2"/><ellipse cx="-3" cy="1" rx="2" ry="2.6" class="l2"/></g>
<path d="M445.5 782.5 L466.5 773.5 L471 769 L471.7 760 Q474 755 480 754 L498 751.7 Q502 753 505.5 758.5 L523.5 778 Q525.4 782 524.2 784 Q521 788 516 788.5 L504 785.5 L498 788.5 L484.5 789.2 L469.5 796.7 L452 803 Z" class="f" style="stroke-width:2"/>
<path d="M478 755.4 Q490 752 500 753.4 L503 756 Q509 766 507.6 779 Q506 784 503.4 786 M471.7 760 Q474 764 480 765.6 L494 764.6 Q497 768 497.4 776 M486 771.6 L495 778" class="l"/>
<ellipse cx="486.4" cy="760.4" rx="6.4" ry="3.4" class="f" style="stroke-width:2.4"/><ellipse cx="487" cy="760.8" rx="3" ry="1.4" class="k"/>
<circle cx="492" cy="783.6" r="5" class="f" style="stroke-width:2"/><ellipse cx="492.6" cy="783.4" rx="2" ry="2.4" class="l2"/>
<ellipse cx="514" cy="781" rx="1.8" ry="2.2" class="l2"/>
<path d="M432.4 786 Q434 780 440 780.6 L446 782.6 L451 790 L447 801 L437 800 Q431 794 432.4 786 Z" class="f"/>
<ellipse cx="442.6" cy="794.8" rx="8" ry="8.6" class="f" style="stroke-width:2" transform="rotate(-20 442.6 794.8)"/>
<ellipse cx="462" cy="798.4" rx="6.6" ry="7.2" class="f" style="stroke-width:2"/><ellipse cx="463" cy="799.4" rx="2.6" ry="3" class="l2"/>
<path d="M497 786.4 L503 788.6 M507 790 L517 793.4" class="l"/>
<g transform="translate(340.0 756.0) rotate(0.0) scale(1.00)"><g transform="scale(1 -1)"><path d="M-12.3 -5 L7.7 -9 L12.2 -7.2 L12.2 -0.5 L7.7 4.5 L-12.3 9 L-12.3 6.4 L1.7 2.6 Q5.6 0 5.2 -1.8 Q4.6 -4 1.7 -4.2 L-12.3 -2.2 Z" class="f"/><path d="M8.4 -7 L8.4 2.6" class="l2"/></g></g>
<g transform="translate(627.0 846.0) rotate(0.0) scale(1.00)"><g transform="scale(1 -1)"><path d="M-12.3 -5 L7.7 -9 L12.2 -7.2 L12.2 -0.5 L7.7 4.5 L-12.3 9 L-12.3 6.4 L1.7 2.6 Q5.6 0 5.2 -1.8 Q4.6 -4 1.7 -4.2 L-12.3 -2.2 Z" class="f"/><path d="M8.4 -7 L8.4 2.6" class="l2"/></g></g>
<path d="M589.5 863.0 C586.7 864.4 576.9 867.8 572.5 871.5 C568.1 875.2 564.6 880.2 563.0 885.0 C561.4 889.8 561.4 895.0 563.0 900.0 C564.6 905.0 568.4 910.8 572.5 915.0 C576.6 919.2 581.2 922.9 587.5 925.5 C593.8 928.1 599.8 930.2 610.0 930.5 C620.2 930.8 642.5 927.6 649.0 927.0" class="to" stroke-width="11.0"/>
<path d="M589.5 863.0 C586.7 864.4 576.9 867.8 572.5 871.5 C568.1 875.2 564.6 880.2 563.0 885.0 C561.4 889.8 561.4 895.0 563.0 900.0 C564.6 905.0 568.4 910.8 572.5 915.0 C576.6 919.2 581.2 922.9 587.5 925.5 C593.8 928.1 599.8 930.2 610.0 930.5 C620.2 930.8 642.5 927.6 649.0 927.0" class="ti" stroke-width="7.7"/>
<path d="M589.5 863.0 C586.7 864.4 576.9 867.8 572.5 871.5 C568.1 875.2 564.6 880.2 563.0 885.0 C561.4 889.8 561.4 895.0 563.0 900.0 C564.6 905.0 568.4 910.8 572.5 915.0 C576.6 919.2 581.2 922.9 587.5 925.5 C593.8 928.1 599.8 930.2 610.0 930.5 C620.2 930.8 642.5 927.6 649.0 927.0" class="hd" stroke-width="7.1"/>
<path d="M648.5 921.8 L649.5 932.2" class="l"/>
<path d="M653.5 926.2 C657.9 925.4 672.2 922.7 680.0 921.5 C687.8 920.3 693.4 919.8 700.0 919.2 C706.6 918.6 714.1 917.7 719.5 917.8 C724.9 917.9 727.1 918.0 732.5 919.7 C737.9 921.4 743.2 924.1 752.0 928.2 C760.8 932.3 779.5 941.5 785.0 944.2" class="to" stroke-width="11.0"/>
<path d="M653.5 926.2 C657.9 925.4 672.2 922.7 680.0 921.5 C687.8 920.3 693.4 919.8 700.0 919.2 C706.6 918.6 714.1 917.7 719.5 917.8 C724.9 917.9 727.1 918.0 732.5 919.7 C737.9 921.4 743.2 924.1 752.0 928.2 C760.8 932.3 779.5 941.5 785.0 944.2" class="ti" stroke-width="7.7"/>
<path d="M653.5 926.2 C657.9 925.4 672.2 922.7 680.0 921.5 C687.8 920.3 693.4 919.8 700.0 919.2 C706.6 918.6 714.1 917.7 719.5 917.8 C724.9 917.9 727.1 918.0 732.5 919.7 C737.9 921.4 743.2 924.1 752.0 928.2 C760.8 932.3 779.5 941.5 785.0 944.2" class="hd" stroke-width="7.1"/>
<path d="M654.4 931.3 L652.6 921.1" class="l"/>
<g transform="translate(590.0 863.0) rotate(-25.0) scale(0.95)"><path d="M12 -5.4 L18.4 -5.4 Q22.4 -5 22.4 0 Q22.4 5 18.4 5.4 L12 5.4 Z" class="f"/><ellipse cx="18.6" cy="0" rx="3.2" ry="5.2" class="l2"/><path d="M9 -6.6 L13.4 -6.6 Q15.4 0 13.4 6.6 L9 6.6 Q7.4 0 9 -6.6 Z" class="f"/><path d="M10.2 -6 Q11.6 0 10.2 6 M12 -6 Q13.6 0 12 6" class="l"/><path d="M-0.4 -5.5 L8.6 -5.5 Q10 0 8.6 5.5 L-0.4 5.5 Q-1.6 0 -0.4 -5.5 Z" class="f"/></g>
<g transform="translate(784.5 944.0) rotate(21.0) scale(1.22)"><path d="M14.5 -4.4 L22 -4.2 Q24.6 0 22 4.2 L14.5 4.4 Z" class="f"/><ellipse cx="22" cy="0" rx="1.8" ry="3.4" class="l2"/><path d="M16.4 -4.4 Q18.0 0 16.4 4.4" class="l"/><path d="M18.6 -4.4 Q20.2 0 18.6 4.4" class="l"/><path d="M20.8 -4.4 Q22.4 0 20.8 4.4" class="l"/><path d="M8 -4 L9.6 -6.4 L14 -6.4 L15.6 -4 L15.6 4 L14 6.4 L9.6 6.4 L8 4 Z" class="f"/><path d="M9 -2.4 L15 -2.4 M9 2.6 L15 2.6 M11.8 -6 L11.8 -2.4 M11.8 2.6 L11.8 6" class="l2"/><path d="M-0.4 -5.5 L8.2 -5.5 Q9.6 0 8.2 5.5 L-0.4 5.5 Q-1.6 0 -0.4 -5.5 Z" class="f"/></g>
<path d="M681 913.6 Q684.6 911 690 912.4 Q695.6 916 695.6 922 Q695 928.6 691 931.4 Q685 933 681.6 930.6 Q678.6 926 678.8 921 Q679 916 681 913.6 Z" class="f" style="stroke-width:2.2"/><path d="M684.6 912.4 Q681.6 921 685.6 932 M688 912.4 Q685 921 689 932" class="l"/>
<path d="M717.5 847.2 L735.7 843.7 Q740.6 842.8 740.9 847.8 L743.4 888.6 Q743.8 894.6 749.1 897.3 L764.0 905.0" class="to" stroke-width="8.2"/>
<path d="M717.5 847.2 L735.7 843.7 Q740.6 842.8 740.9 847.8 L743.4 888.6 Q743.8 894.6 749.1 897.3 L764.0 905.0" class="ti" stroke-width="4.9"/>
<g transform="translate(718.0 847.0) rotate(169.0) scale(1.20)"><path d="M8 -4.4 L17.6 -4.2 Q20.4 0 17.6 4.2 L8 4.4 Z" class="f" style="stroke-width:1.9"/><path d="M10.8 -4.4 Q12.6 0 10.8 4.4" class="l" style="stroke-width:1.9"/><path d="M13.4 -4.4 Q15.2 0 13.4 4.4" class="l" style="stroke-width:1.9"/><path d="M16.0 -4.4 Q17.8 0 16.0 4.4" class="l" style="stroke-width:1.9"/><path d="M-0.5 -3.8 L1.4 -6.2 L7.4 -6.2 L9.2 -3.8 L9.2 3.8 L7.4 6.2 L1.4 6.2 L-0.5 3.8 Z" class="f" style="stroke-width:2"/><path d="M0.6 -2.4 L8.4 -2.4 M0.6 2.6 L8.4 2.6 M4.4 -6 L4.4 -2.4 M4.4 2.6 L4.4 6" class="l2" style="stroke-width:1.6"/></g>
<g transform="translate(763.4 904.6) rotate(26.0) scale(1.20)"><path d="M8 -4.4 L17.6 -4.2 Q20.4 0 17.6 4.2 L8 4.4 Z" class="f" style="stroke-width:1.9"/><path d="M10.8 -4.4 Q12.6 0 10.8 4.4" class="l" style="stroke-width:1.9"/><path d="M13.4 -4.4 Q15.2 0 13.4 4.4" class="l" style="stroke-width:1.9"/><path d="M16.0 -4.4 Q17.8 0 16.0 4.4" class="l" style="stroke-width:1.9"/><path d="M-0.5 -3.8 L1.4 -6.2 L7.4 -6.2 L9.2 -3.8 L9.2 3.8 L7.4 6.2 L1.4 6.2 L-0.5 3.8 Z" class="f" style="stroke-width:2"/><path d="M0.6 -2.4 L8.4 -2.4 M0.6 2.6 L8.4 2.6 M4.4 -6 L4.4 -2.4 M4.4 2.6 L4.4 6" class="l2" style="stroke-width:1.6"/></g>
<path d="M172.5 54.0 L172.5 65.0" class="l"/>
<path d="M220.5 54.0 L220.5 67.0" class="l"/>
<path d="M232.0 171.0 L232.0 199.0" class="l"/>
<path d="M328.0 212.0 L328.0 232.0" class="l"/>
<path d="M414.5 292.0 L414.5 315.0" class="l"/>
<path d="M501.0 330.0 L501.0 349.0" class="l"/>
<path d="M570.0 330.0 L570.0 355.0" class="l"/>
<path d="M522.0 402.0 L558.0 402.0" class="l"/>
<path d="M627.0 409.0 L648.0 409.0" class="l"/>
<path d="M408.0 437.0 L424.0 437.0" class="l"/>
<path d="M711.0 445.0 L711.0 466.0" class="l"/>
<path d="M788.0 466.0 L788.0 490.0" class="l"/>
<path d="M256.0 460.5 L294.0 460.5" class="l"/>
<path d="M256.0 484.5 L292.0 484.5" class="l"/>
<path d="M384.0 504.0 L384.0 525.0" class="l"/>
<path d="M519.0 551.0 L519.0 575.0" class="l"/>
<path d="M595.0 580.0 L595.0 604.0" class="l"/>
<path d="M371.0 611.0 L371.0 630.0" class="l"/>
<path d="M199.6 646.0 L223.6 646.0" class="l"/>
<path d="M409.4 666.0 L409.4 674.0" class="l"/>
<path d="M471.7 695.2 L490.5 695.2" class="l"/>
<path d="M614.0 699.0 L614.0 722.0" class="l"/>
<path d="M720.0 644.0 L720.0 670.0" class="l"/>
<path d="M798.4 630.0 L812.8 627.6" class="l"/>
<path d="M809.0 672.0 L809.0 690.0" class="l"/>
<path d="M355.0 719.0 L369.0 719.0" class="l"/>
<path d="M338.0 765.0 L338.0 790.0" class="l"/>
<path d="M386.0 770.0 L386.0 790.0" class="l"/>
<path d="M676.0 777.0 L706.0 777.0" class="l"/>
<path d="M575.0 817.0 L575.0 832.0" class="l"/>
<path d="M632.0 857.0 L632.0 877.0" class="l"/>
<path d="M749.0 861.8 L774.8 861.2" class="l"/>
<path d="M730.8 929 L730.8 934 M730.8 936.4 L730.8 942" class="l"/>
<text x="173.1" y="50.2" font-size="15.4" letter-spacing="-1.5">12</text>
<text x="220.8" y="50.0" font-size="15.4" letter-spacing="-1.5">13</text>
<text x="232.6" y="212.7" font-size="15.4" letter-spacing="-0.9">9</text>
<text x="327.2" y="207.0" font-size="15.4" letter-spacing="-1.5">17</text>
<text x="414.6" y="287.2" font-size="15.4" letter-spacing="-0.9">2</text>
<text x="501.9" y="326.7" font-size="15.4" letter-spacing="-1.5">17</text>
<text x="570.2" y="326.3" font-size="15.4" letter-spacing="-1.5">16</text>
<text x="570.2" y="406.7" font-size="15.4" letter-spacing="-1.5">14</text>
<text x="659.2" y="414.1" font-size="15.4" letter-spacing="-1.5">18</text>
<text x="400.2" y="442.0" font-size="15.4" letter-spacing="-0.9">7</text>
<text x="711.1" y="440.9" font-size="15.4" letter-spacing="-0.9">8</text>
<text x="787.9" y="461.9" font-size="15.4" letter-spacing="-1.5">17</text>
<text x="244.6" y="465.7" font-size="15.4" letter-spacing="-0.9">20</text>
<text x="245.0" y="488.5" font-size="15.4" letter-spacing="-0.9">21</text>
<text x="382.6" y="539.7" font-size="15.4" letter-spacing="-1.5">11</text>
<text x="518.5" y="549.7" font-size="15.4" letter-spacing="-0.9">2</text>
<text x="594.6" y="576.7" font-size="15.4" letter-spacing="-1.5">17</text>
<text x="370.2" y="609.4" font-size="15.4" letter-spacing="-1.5">15</text>
<text x="194.8" y="651.1" font-size="15.4" letter-spacing="-0.9">1</text>
<text x="409.1" y="685.7" font-size="15.4" letter-spacing="-1.5">15</text>
<text x="460.2" y="700.2" font-size="15.4" letter-spacing="-1.5">19</text>
<text x="613.5" y="696.7" font-size="15.4" letter-spacing="-0.9">6</text>
<text x="721.6" y="685.7" font-size="15.4" letter-spacing="-1.5">10</text>
<text x="788.2" y="636.1" font-size="15.4" letter-spacing="-1.5">13</text>
<text x="809.2" y="705.1" font-size="15.4" letter-spacing="-1.5">12</text>
<text x="378.2" y="724.7" font-size="15.4" letter-spacing="-0.9">3</text>
<text x="337.9" y="805.7" font-size="15.4" letter-spacing="-1.5">17</text>
<text x="386.2" y="805.7" font-size="15.4" letter-spacing="-0.9">4</text>
<text x="715.5" y="783.2" font-size="15.4" letter-spacing="-1.5">19</text>
<text x="575.8" y="845.7" font-size="15.4" letter-spacing="-0.9">5</text>
<text x="632.0" y="892.1" font-size="15.4" letter-spacing="-1.5">17</text>
<text x="788.8" y="866.7" font-size="15.4" letter-spacing="1.6">1A</text>
<text x="730.5" y="957.7" font-size="15.4" letter-spacing="-0.9">1</text>
<path d="M761 406.6 L765 412.4" class="l"/>
<path d="M563.6 368.8 L545 375.8 M540.8 377.8 L527.6 383.2 M524 385 L513.2 389.2" class="l"/>
</svg>
</body></html>
